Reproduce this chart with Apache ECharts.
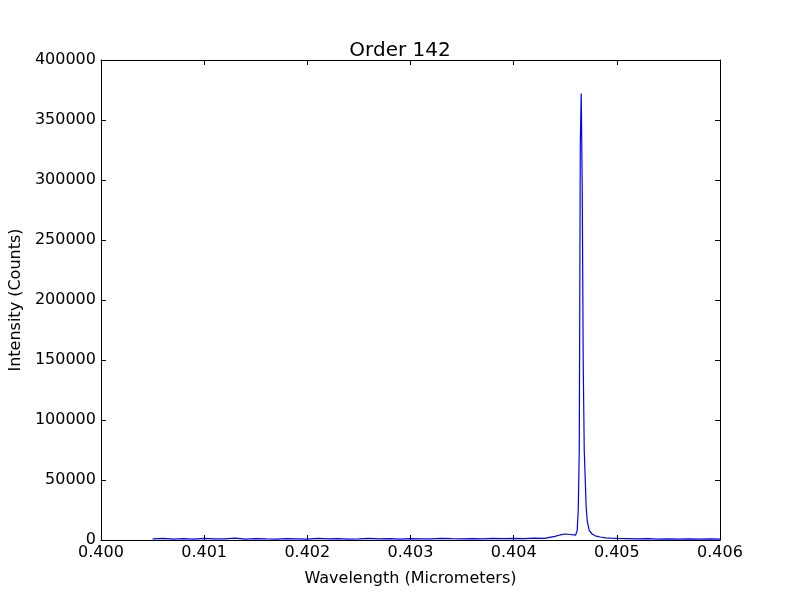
<!DOCTYPE html>
<html>
<head>
<meta charset="utf-8">
<script src="https://cdn.jsdelivr.net/npm/echarts@6/dist/echarts.min.js"></script>
<style>html,body{margin:0;padding:0;background:#fff}#c{width:800px;height:600px}</style>
</head>
<body>
<div id="c"></div>
<script>
var titleText = "Order 142";
var xName = "Wavelength (Micrometers)";
var yName = "Intensity (Counts)";
var xTicks = [0.400, 0.401, 0.402, 0.403, 0.404, 0.405, 0.406];
var yTicks = [0, 50000, 100000, 150000, 200000, 250000, 300000, 350000, 400000];

var wavelength = [
  0.4005, 0.4006, 0.4007, 0.4008, 0.4009, 0.4010, 0.4011, 0.4012, 0.4013, 0.4014,
  0.4015, 0.4016, 0.4017, 0.4018, 0.4019, 0.4020, 0.4021, 0.4022, 0.4023, 0.4024,
  0.4025, 0.4026, 0.4027, 0.4028, 0.4029, 0.4030, 0.4031, 0.4032, 0.4033, 0.4034,
  0.4035, 0.4036, 0.4037, 0.4038, 0.4039, 0.4040, 0.4041, 0.4042, 0.4043,
  0.40435, 0.40440, 0.40445, 0.40450, 0.40455, 0.40460,
  0.404616, 0.404626, 0.404636, 0.404646, 0.404655, 0.404665, 0.404674, 0.404684,
  0.404694, 0.404703, 0.404713, 0.404732, 0.404761, 0.40479, 0.40484, 0.40489,
  0.40494, 0.40500, 0.4051, 0.4052, 0.4053, 0.4054, 0.4055, 0.4056, 0.4057,
  0.4058, 0.4059, 0.4060
];
var intensity = [
  900, 1400, 800, 1100, 700, 1300, 900, 1000, 1500, 800,
  1200, 900, 700, 1100, 1000, 800, 1300, 900, 1200, 800,
  1000, 1400, 900, 1100, 800, 1200, 1000, 900, 1300, 1100,
  1000, 1200, 900, 1400, 1100, 1300, 1200, 1500, 1400,
  2200, 3000, 4200, 5000, 4600, 4000,
  8000, 25000, 75000, 330000, 372000, 290000, 150000, 75000,
  50000, 27000, 16000, 8000, 5000, 3500, 2500, 1800,
  1500, 1300, 1100, 900, 1200, 800, 1000, 700, 900,
  800, 1000, 700
];

var pts = wavelength.map(function (w, i) { return [w, intensity[i]]; });
var font = "DejaVu Sans";
var xMin = xTicks[0], xMax = xTicks[xTicks.length - 1];
var yMin = yTicks[0], yMax = yTicks[yTicks.length - 1];

var chart = echarts.init(document.getElementById('c'), null, {renderer: 'canvas'});
var axisLine = {show: true, onZero: false, lineStyle: {color: '#000', width: 1}};
var tick = {show: true, inside: true, length: 5, lineStyle: {color: '#000', width: 1}};
chart.setOption({
  animation: false,
  backgroundColor: '#fff',
  title: {
    text: titleText, left: 'center', top: 36,
    textStyle: {fontFamily: font, fontSize: 20, fontWeight: 'normal', color: '#000'}
  },
  grid: {left: 100, right: 80, top: 60, bottom: 60, containLabel: false},
  xAxis: [{
    type: 'value', min: xMin, max: xMax, interval: 0.001,
    name: xName, nameLocation: 'middle', nameGap: 31,
    nameTextStyle: {fontFamily: font, fontSize: 16, color: '#000'},
    axisLine: axisLine, axisTick: tick, splitLine: {show: false},
    axisLabel: {fontFamily: font, fontSize: 16, color: '#000', margin: 5,
      formatter: function (v) { return v.toFixed(3); }}
  }, {
    type: 'value', position: 'top', min: xMin, max: xMax, interval: 0.001,
    axisLine: axisLine, axisTick: tick, splitLine: {show: false}, axisLabel: {show: false}
  }],
  yAxis: [{
    type: 'value', min: yMin, max: yMax, interval: 50000,
    name: yName, nameLocation: 'middle', nameGap: 76,
    nameTextStyle: {fontFamily: font, fontSize: 16, color: '#000'},
    axisLine: axisLine, axisTick: tick, splitLine: {show: false},
    axisLabel: {fontFamily: font, fontSize: 16, color: '#000', margin: 5,
      formatter: function (v) { return String(v); }}
  }, {
    type: 'value', position: 'right', min: yMin, max: yMax, interval: 50000,
    axisLine: axisLine, axisTick: tick, splitLine: {show: false}, axisLabel: {show: false}
  }],
  series: [{
    type: 'line', data: pts, showSymbol: false, symbol: 'none',
    lineStyle: {color: '#0000ff', width: 1.2}, xAxisIndex: 0, yAxisIndex: 0
  }]
});
</script>
</body>
</html>
